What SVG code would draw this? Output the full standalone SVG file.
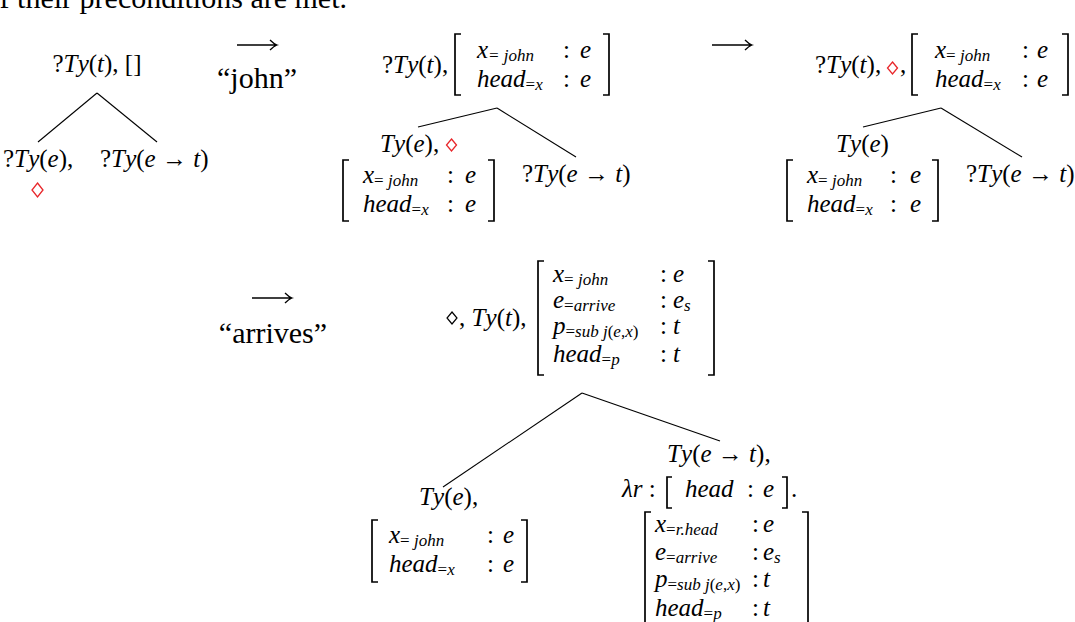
<svg xmlns="http://www.w3.org/2000/svg" width="1075" height="622" viewBox="0 0 1075 622">
<style>
text{font-family:"Liberation Serif","Times New Roman","DejaVu Serif",serif;font-size:25px;fill:#000}
.i{font-style:italic}
.sb{font-size:17px;font-style:italic}
.su{font-style:normal}
.w{font-size:30px}
.c{stroke:#000;stroke-width:1.1;fill:none}
.br{stroke:#000;stroke-width:1.7;fill:none}
.ar{stroke:#000;stroke-width:1.3;fill:none}
.dr{stroke:#e8262a;stroke-width:1.3;fill:none}
.dk{stroke:#000;stroke-width:1.2;fill:none}
</style>
<rect width="1075" height="622" fill="#fff"/>
<text class="w" x="347" y="8" text-anchor="end">If their preconditions are met.</text>

<g id="transitions">
<path class="ar" d="M237 45H277M270 40Q274 44 277 45Q274 46 270 50"/>
<text class="w" x="257" y="88" text-anchor="middle">“john”</text>
<path class="ar" d="M712 45H752M745 40Q749 44 752 45Q749 46 745 50"/>
<path class="ar" d="M252 298H292M285 293Q289 297 292 298Q289 299 285 303"/>
<text class="w" x="273" y="343" text-anchor="middle">“arrives”</text>
</g>

<g id="connectors">
<line class="c" x1="97" y1="93" x2="38" y2="142"/>
<line class="c" x1="97" y1="93" x2="157" y2="142"/>
<line class="c" x1="497" y1="108" x2="418" y2="127"/>
<line class="c" x1="497" y1="108" x2="576" y2="157"/>
<line class="c" x1="941" y1="108" x2="863" y2="127"/>
<line class="c" x1="941" y1="108" x2="1022" y2="157"/>
<line class="c" x1="582" y1="393" x2="443" y2="487"/>
<line class="c" x1="582" y1="393" x2="720" y2="441"/>
</g>

<!-- Tree 1 -->
<g id="t1-root">
<text x="97" y="72" text-anchor="middle">?<tspan class="i">T</tspan><tspan class="i" dx="2">y</tspan>(<tspan class="i">t</tspan>), []</text>
</g>
<g id="t1-left">
<text x="3" y="167">?<tspan class="i">T</tspan><tspan class="i" dx="2">y</tspan>(<tspan class="i">e</tspan>),</text>
<path class="dr" d="M37.5 183L43 190L37.5 197L32 190Z"/>
</g>
<g id="t1-right">
<text x="100" y="167">?<tspan class="i">T</tspan><tspan class="i" dx="2">y</tspan>(<tspan class="i">e</tspan> → <tspan class="i">t</tspan>)</text>
</g>

<!-- Tree 2 -->
<g id="t2-root">
<text x="382" y="73">?<tspan class="i">T</tspan><tspan class="i" dx="2">y</tspan>(<tspan class="i">t</tspan>),</text>
<path class="br" d="M461 34H455V95H461M603 34H609V95H603"/>
<text class="i" x="477" y="58">x<tspan class="sb" dy="3">=<tspan class="i"> john</tspan></tspan></text>
<text x="563" y="58">:</text><text class="i" x="580" y="58">e</text>
<text class="i" x="477" y="87">head<tspan class="sb" dy="3"><tspan class="su">=</tspan>x</tspan></text>
<text x="563" y="87">:</text><text class="i" x="580" y="87">e</text>
</g>
<g id="t2-left">
<text x="380" y="152"><tspan class="i">T</tspan><tspan class="i" dx="2">y</tspan>(<tspan class="i">e</tspan>),</text>
<path class="dr" d="M451.5 139L456.5 145L451.5 151L446.5 145Z"/>
<path class="br" d="M349 160H343V221H349M488 160H494V221H488"/>
<text class="i" x="363" y="183">x<tspan class="sb" dy="3"><tspan class="su">=</tspan> john</tspan></text>
<text x="447" y="183">:</text><text class="i" x="465" y="183">e</text>
<text class="i" x="363" y="212">head<tspan class="sb" dy="3"><tspan class="su">=</tspan>x</tspan></text>
<text x="447" y="212">:</text><text class="i" x="465" y="212">e</text>
</g>
<g id="t2-right">
<text x="522" y="182">?<tspan class="i">T</tspan><tspan class="i" dx="2">y</tspan>(<tspan class="i">e</tspan> → <tspan class="i">t</tspan>)</text>
</g>

<!-- Tree 3 -->
<g id="t3-root">
<text x="815" y="73">?<tspan class="i">T</tspan><tspan class="i" dx="2">y</tspan>(<tspan class="i">t</tspan>),</text>
<path class="dr" d="M892.5 62L897.5 68L892.5 74L887.5 68Z"/>
<text x="900" y="73">,</text>
<path class="br" d="M918 34H912V95H918M1062 34H1068V95H1062"/>
<text class="i" x="935" y="58">x<tspan class="sb" dy="3"><tspan class="su">=</tspan> john</tspan></text>
<text x="1022" y="58">:</text><text class="i" x="1037" y="58">e</text>
<text class="i" x="935" y="87">head<tspan class="sb" dy="3"><tspan class="su">=</tspan>x</tspan></text>
<text x="1022" y="87">:</text><text class="i" x="1037" y="87">e</text>
</g>
<g id="t3-left">
<text x="836" y="152"><tspan class="i">T</tspan><tspan class="i" dx="2">y</tspan>(<tspan class="i">e</tspan>)</text>
<path class="br" d="M793 160H787V221H793M932 160H938V221H932"/>
<text class="i" x="807" y="183">x<tspan class="sb" dy="3"><tspan class="su">=</tspan> john</tspan></text>
<text x="890" y="183">:</text><text class="i" x="910" y="183">e</text>
<text class="i" x="807" y="212">head<tspan class="sb" dy="3"><tspan class="su">=</tspan>x</tspan></text>
<text x="890" y="212">:</text><text class="i" x="910" y="212">e</text>
</g>
<g id="t3-right">
<text x="966" y="182">?<tspan class="i">T</tspan><tspan class="i" dx="2">y</tspan>(<tspan class="i">e</tspan> → <tspan class="i">t</tspan>)</text>
</g>

<!-- Tree 4 -->
<g id="t4-root">
<path class="dk" d="M452 312L457 318L452 324L447 318Z"/>
<text x="459" y="326">, <tspan class="i">T</tspan><tspan class="i" dx="2">y</tspan>(<tspan class="i">t</tspan>),</text>
<path class="br" d="M544 261H538V375H544M708 261H714V375H708"/>
<text class="i" x="553" y="282">x<tspan class="sb" dy="3"><tspan class="su">=</tspan> john</tspan></text>
<text x="660" y="282">:</text><text class="i" x="673" y="282">e</text>
<text class="i" x="553" y="308">e<tspan class="sb" dy="3"><tspan class="su">=</tspan>arrive</tspan></text>
<text x="660" y="308">:</text><text class="i" x="673" y="308">e<tspan class="sb" dy="3">s</tspan></text>
<text class="i" x="553" y="334">p<tspan class="sb" dy="3"><tspan class="su">=</tspan>sub j<tspan class="su">(</tspan>e<tspan class="su">,</tspan>x<tspan class="su">)</tspan></tspan></text>
<text x="660" y="334">:</text><text class="i" x="673" y="334">t</text>
<text class="i" x="553" y="362">head<tspan class="sb" dy="3"><tspan class="su">=</tspan>p</tspan></text>
<text x="660" y="362">:</text><text class="i" x="673" y="362">t</text>
</g>
<g id="t4-left">
<text x="419" y="505"><tspan class="i">T</tspan><tspan class="i" dx="2">y</tspan>(<tspan class="i">e</tspan>),</text>
<path class="br" d="M378 520H372V582H378M521 520H527V582H521"/>
<text class="i" x="389" y="543">x<tspan class="sb" dy="3"><tspan class="su">=</tspan> john</tspan></text>
<text x="487" y="543">:</text><text class="i" x="503" y="543">e</text>
<text class="i" x="389" y="572">head<tspan class="sb" dy="3"><tspan class="su">=</tspan>x</tspan></text>
<text x="487" y="572">:</text><text class="i" x="503" y="572">e</text>
</g>
<g id="t4-right">
<text x="667" y="462"><tspan class="i">T</tspan><tspan class="i" dx="2">y</tspan>(<tspan class="i">e</tspan> → <tspan class="i">t</tspan>),</text>
<text x="622" y="497"><tspan class="i">λr</tspan> :</text>
<path class="br" d="M672 477H667V508H672M782 477H787V508H782"/>
<text class="i" x="685" y="497">head</text>
<text x="747" y="497">:</text><text class="i" x="763" y="497">e</text>
<text x="791" y="497">.</text>
<path class="br" d="M651 512H645V640M802 512H808V640"/>
<text class="i" x="655" y="532">x<tspan class="sb" dy="3"><tspan class="su">=</tspan>r.head</tspan></text>
<text x="752" y="532">:</text><text class="i" x="763" y="532">e</text>
<text class="i" x="655" y="560">e<tspan class="sb" dy="3"><tspan class="su">=</tspan>arrive</tspan></text>
<text x="752" y="560">:</text><text class="i" x="763" y="560">e<tspan class="sb" dy="3">s</tspan></text>
<text class="i" x="655" y="587">p<tspan class="sb" dy="3"><tspan class="su">=</tspan>sub j<tspan class="su">(</tspan>e<tspan class="su">,</tspan>x<tspan class="su">)</tspan></tspan></text>
<text x="752" y="587">:</text><text class="i" x="763" y="587">t</text>
<text class="i" x="655" y="616">head<tspan class="sb" dy="3"><tspan class="su">=</tspan>p</tspan></text>
<text x="752" y="616">:</text><text class="i" x="763" y="616">t</text>
</g>
</svg>
